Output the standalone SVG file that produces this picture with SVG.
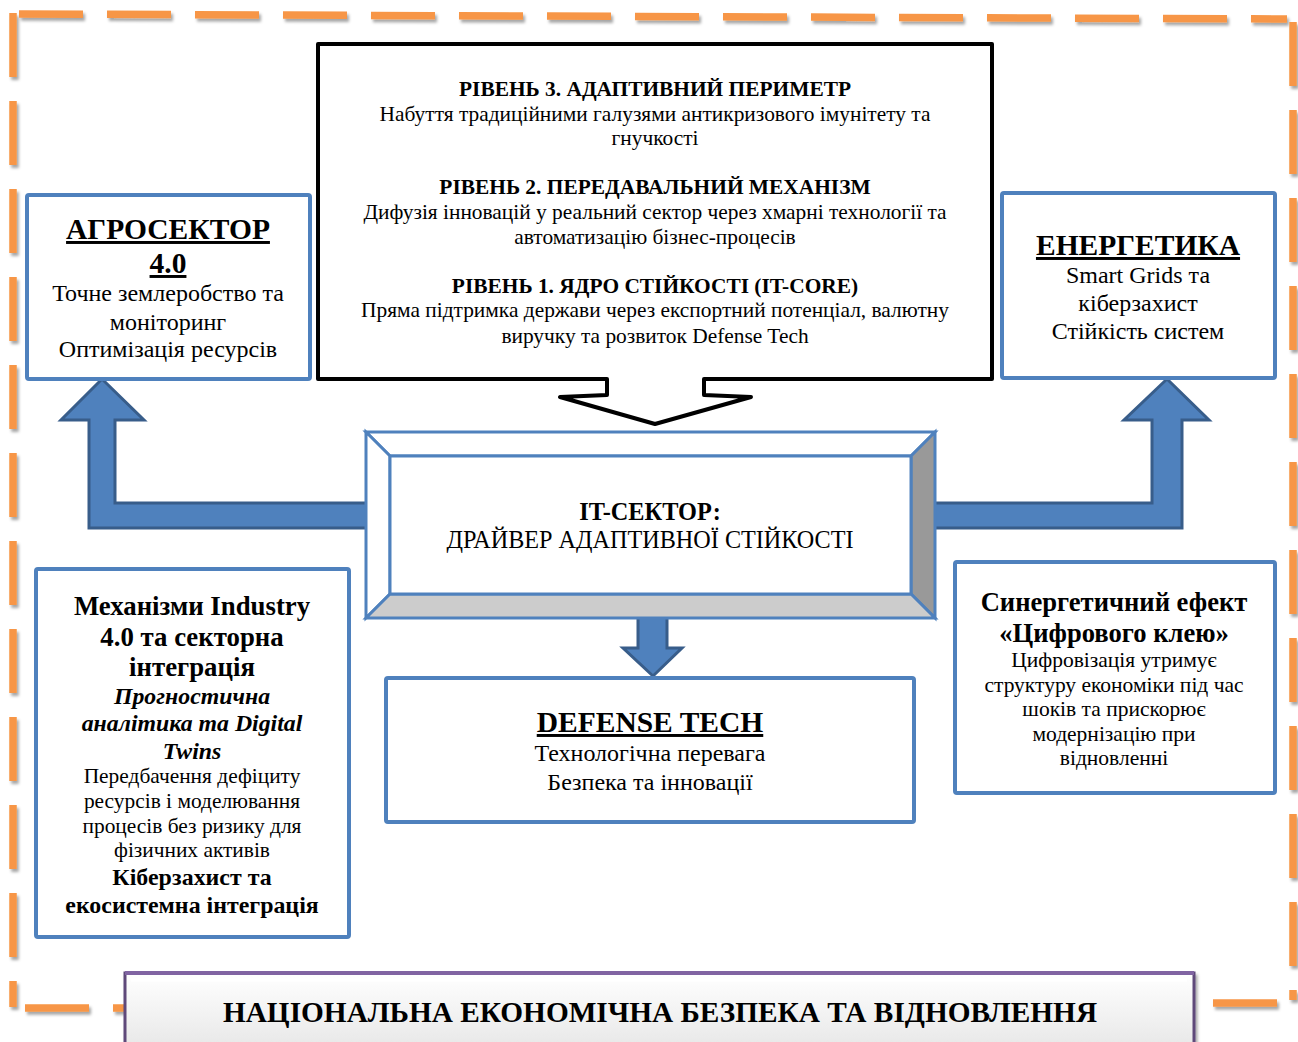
<svg xmlns="http://www.w3.org/2000/svg" width="1298" height="1042" viewBox="0 0 1298 1042">
<defs>
<style>
text{font-family:"Liberation Serif","Times New Roman",serif;fill:#000;text-anchor:middle}
.b{font-weight:bold}
.i{font-style:italic}
.u{text-decoration:underline}
.lv{font-size:21.4px}
.box{fill:#fff;stroke:#4F81BD;stroke-width:4}
.arr{fill:#4F81BD;stroke:#385D8A;stroke-width:3;stroke-linejoin:miter}
.bev{stroke:#4F81BD;stroke-width:3;stroke-linejoin:miter}
.dash{fill:none;stroke:#F79646;stroke-width:7.5;stroke-dasharray:64 24}
</style>
<filter id="sh" x="-5%" y="-5%" width="110%" height="110%">
<feDropShadow dx="2" dy="3" stdDeviation="1.5" flood-color="#000" flood-opacity="0.35"/>
</filter>
<linearGradient id="barg" x1="0" y1="0" x2="0" y2="1">
<stop offset="0" stop-color="#ffffff"/>
<stop offset="1" stop-color="#e6e6e6"/>
</linearGradient>
</defs>

<g id="frame" filter="url(#sh)">
<path class="dash" d="M13,13 L13,1007"/>
<path class="dash" d="M19,14 L1287,19"/>
<path class="dash" d="M1293,22 L1293,1000"/>
<path class="dash" d="M25,1008 L124,1008"/>
<path class="dash" d="M1213,1003 L1277,1003"/>
</g>

<g id="connectors">
<path class="arr" d="M102,379 L144,420 L115,420 L115,503 L368,503 L368,528 L89,528 L89,420 L61,420 Z"/>
<path class="arr" d="M1167,379 L1209,420 L1182,420 L1182,528 L933,528 L933,503 L1152,503 L1152,420 L1124,420 Z"/>
<path class="arr" d="M638,602 L667,602 L667,648 L682,648 L653,676 L623,648 L638,648 Z"/>
</g>

<g id="levels">
<path d="M318,44 L992,44 L992,379 L704,379 L704,395 L751,397 L655,424 L560,397 L607,395 L607,379 L318,379 Z" fill="#fff" stroke="#000" stroke-width="4" stroke-linejoin="round"/>
<text class="b lv" x="655" y="96">РІВЕНЬ 3. АДАПТИВНИЙ ПЕРИМЕТР</text>
<text class="lv" x="655" y="121">Набуття традиційними галузями антикризового імунітету та</text>
<text class="lv" x="655" y="145">гнучкості</text>
<text class="b lv" x="655" y="194">РІВЕНЬ 2. ПЕРЕДАВАЛЬНИЙ МЕХАНІЗМ</text>
<text class="lv" x="655" y="219">Дифузія інновацій у реальний сектор через хмарні технології та</text>
<text class="lv" x="655" y="244">автоматизацію бізнес-процесів</text>
<text class="b lv" x="655" y="293">РІВЕНЬ 1. ЯДРО СТІЙКОСТІ (IT-CORE)</text>
<text class="lv" x="655" y="317">Пряма підтримка держави через експортний потенціал, валютну</text>
<text class="lv" x="655" y="343">виручку та розвиток Defense Tech</text>
</g>

<g id="agro">
<rect class="box" x="27" y="195" width="283" height="184" rx="2"/>
<text class="b u" x="168" y="239" font-size="29.5">АГРОСЕКТОР</text>
<text class="b u" x="168" y="273" font-size="29.5">4.0</text>
<text x="168" y="301" font-size="24">Точне землеробство та</text>
<text x="168" y="330" font-size="24">моніторинг</text>
<text x="168" y="357" font-size="24">Оптимізація ресурсів</text>
</g>

<g id="energy">
<rect class="box" x="1002" y="193" width="273" height="185" rx="2"/>
<text class="b u" x="1138" y="255" font-size="29.5">ЕНЕРГЕТИКА</text>
<text x="1138" y="283" font-size="24">Smart Grids та</text>
<text x="1138" y="311" font-size="24">кіберзахист</text>
<text x="1138" y="339" font-size="24">Стійкість систем</text>
</g>

<g id="itsector">
<polygon class="bev" points="366,432 935,432 911,456 390,456" fill="#fff"/>
<polygon class="bev" points="366,432 390,456 390,594 366,618" fill="#fff"/>
<polygon class="bev" points="935,432 935,618 911,594 911,456" fill="#999"/>
<polygon class="bev" points="366,618 390,594 911,594 935,618" fill="#ccc"/>
<rect class="bev" x="390" y="456" width="521" height="138" fill="#fff"/>
<text class="b" x="650" y="520" font-size="24.3">IT-СЕКТОР:</text>
<text x="650" y="548" font-size="24.2">ДРАЙВЕР АДАПТИВНОЇ СТІЙКОСТІ</text>
</g>

<g id="defense">
<rect class="box" x="386" y="678" width="528" height="144" rx="2"/>
<text class="b u" x="650" y="732" font-size="29.5">DEFENSE TECH</text>
<text x="650" y="761" font-size="24">Технологічна перевага</text>
<text x="650" y="790" font-size="24">Безпека та інновації</text>
</g>

<g id="industry">
<rect class="box" x="36" y="569" width="313" height="368" rx="2"/>
<text class="b" x="192" y="615" font-size="26.8">Механізми Industry</text>
<text class="b" x="192" y="646" font-size="26.8">4.0 та секторна</text>
<text class="b" x="192" y="676" font-size="26.8">інтеграція</text>
<text class="b i" x="192" y="704" font-size="23.8">Прогностична</text>
<text class="b i" x="192" y="731" font-size="23.8">аналітика та Digital</text>
<text class="b i" x="192" y="759" font-size="23.8">Twins</text>
<text x="192" y="783" font-size="21.4">Передбачення дефіциту</text>
<text x="192" y="808" font-size="21.4">ресурсів і моделювання</text>
<text x="192" y="833" font-size="21.4">процесів без ризику для</text>
<text x="192" y="857" font-size="21.4">фізичних активів</text>
<text class="b" x="192" y="885" font-size="23.9">Кіберзахист та</text>
<text class="b" x="192" y="913" font-size="23.9">екосистемна інтеграція</text>
</g>

<g id="synergy">
<rect class="box" x="955" y="562" width="320" height="231" rx="2"/>
<text class="b" x="1114" y="611" font-size="26.6">Синергетичний ефект</text>
<text class="b" x="1114" y="642" font-size="26.6">«Цифрового клею»</text>
<text x="1114" y="667" font-size="21.5">Цифровізація утримує</text>
<text x="1114" y="692" font-size="21.5">структуру економіки під час</text>
<text x="1114" y="716" font-size="21.5">шоків та прискорює</text>
<text x="1114" y="741" font-size="21.5">модернізацію при</text>
<text x="1114" y="765" font-size="21.5">відновленні</text>
</g>

<g id="national">
<rect x="125" y="973" width="1069" height="80" fill="url(#barg)" stroke="#5F497A" stroke-width="3" filter="url(#sh)"/>
<line x1="125" y1="973" x2="1194" y2="973" stroke="#8064A2" stroke-width="4"/>
<path d="M131,980 L1187,980" stroke="#fff" stroke-width="3"/>
<text class="b" x="660" y="1022" font-size="29.3">НАЦІОНАЛЬНА ЕКОНОМІЧНА БЕЗПЕКА ТА ВІДНОВЛЕННЯ</text>
</g>
</svg>
